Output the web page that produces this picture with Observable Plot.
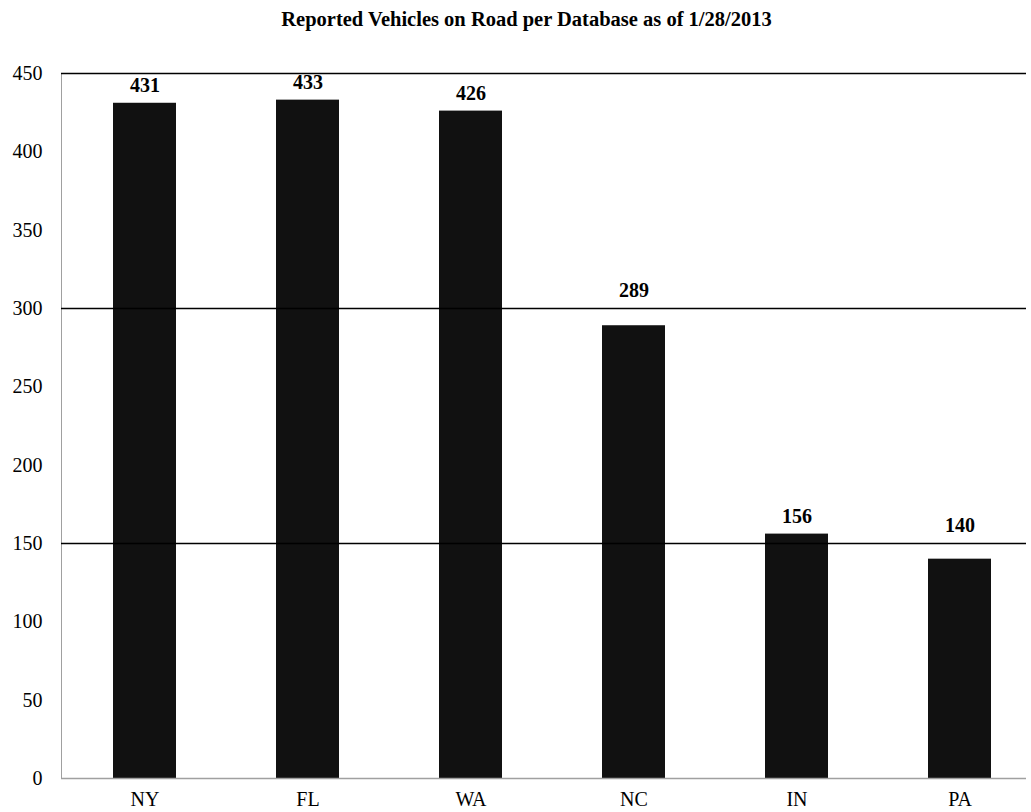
<!DOCTYPE html>
<html>
<head>
<meta charset="utf-8">
<script src="https://cdn.jsdelivr.net/npm/d3@7"></script>
<script src="https://cdn.jsdelivr.net/npm/@observablehq/plot@0.6"></script>
<style>
  html, body { margin: 0; padding: 0; background: #fff; }
  #title { box-sizing: border-box; width: 1031px; height: 40px; padding-left: 22px; padding-top: 7px; line-height: 24px; text-align: center;
    font-family: "Liberation Serif", "Times New Roman", serif; font-weight: bold; font-size: 20.5px; color: #000; }
  svg { display: block; }
</style>
</head>
<body>
<div id="title">Reported Vehicles on Road per Database as of 1/28/2013</div>
<div id="chart"></div>
<script>
const states = ["NY", "FL", "WA", "NC", "IN", "PA"];
const vehicles = [431, 433, 426, 289, 156, 140];
const gridValues = [150, 300, 450];
const yTicks = [0, 50, 100, 150, 200, 250, 300, 350, 400, 450];

const data = states.map((s, i) => ({state: s, value: vehicles[i]}));
// Label anchor: push above a gridline if it would collide with it
const labelData = data.map(d => {
  const g = gridValues.find(g => g >= d.value && g - d.value < 15);
  return {...d, anchorValue: g !== undefined ? g : d.value};
});

const font = '"Liberation Serif", "Times New Roman", serif';
const chart = Plot.plot({
  width: 1031,
  height: 772,
  marginLeft: 61,
  marginRight: 5,
  marginTop: 33,
  marginBottom: 34,
  style: {fontFamily: font, fontSize: "20px", color: "#000", background: "#fff"},
  x: {type: "band", domain: states, range: [61, 1042], paddingInner: 0.615, paddingOuter: 0.3075},
  y: {domain: [0, 450]},
  marks: [
    Plot.frame({anchor: "left", stroke: "#a0a0a0"}),
    Plot.barY(data, {x: "state", y: "value", fill: "#111111"}),
    Plot.ruleY(gridValues, {stroke: "#000", strokeWidth: 1.5}),
    Plot.ruleY([0], {stroke: "#a0a0a0", strokeWidth: 1.5}),
    Plot.text(labelData, {x: "state", y: "anchorValue", text: d => String(d.value), dy: -18,
      fontFamily: font, fontWeight: "bold", fontSize: 20, fill: "#000"}),
    Plot.axisY({ticks: yTicks, tickSize: 0, tickPadding: 19, label: null, fontFamily: font, fontSize: 20}),
    Plot.axisX({tickSize: 0, tickPadding: 13, label: null, fontFamily: font, fontSize: 20})
  ]
});
document.getElementById("chart").appendChild(chart);
</script>
</body>
</html>
